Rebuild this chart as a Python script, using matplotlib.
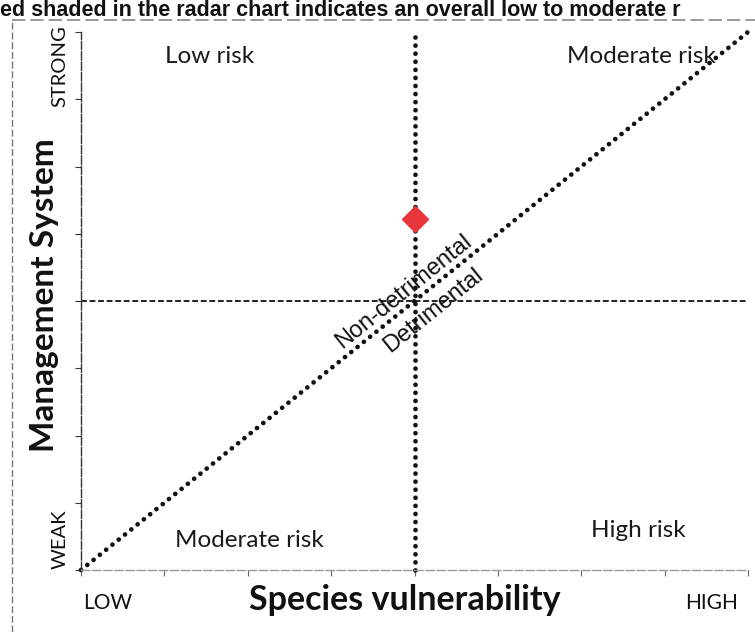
import matplotlib.pyplot as plt
import numpy as np

# axes run from 0 (low / weak) to 1 (high / strong)
vuln_threshold = 0.5
mgmt_threshold = 0.5
tick_steps = np.arange(0, 1.001, 0.125)

# assessed species (red diamond)
point_vuln = [0.5]
point_mgmt = [0.652]

quadrants = ["Low risk", "Moderate risk", "Moderate risk", "High risk"]
caption = "ed shaded in the radar chart indicates an overall low to moderate r"

fig = plt.figure(figsize=(7.55, 6.32), dpi=100)
ax = fig.add_axes([81 / 755, 62 / 632, 667 / 755, 538 / 632])
ax.set_xlim(0, 1)
ax.set_ylim(0, 1)

# frame: only left + bottom, thin, like the scan
for s in ["top", "right"]:
    ax.spines[s].set_visible(False)
ax.spines["left"].set_color("#333333")
ax.spines["left"].set_linewidth(1.0)
ax.spines["left"].set_linestyle((0, (6, 1.5)))
ax.spines["bottom"].set_color("#9a9a9a")
ax.spines["bottom"].set_linewidth(1.0)
ax.spines["bottom"].set_linestyle((0, (6, 2)))
ax.set_xticks(tick_steps)
ax.set_yticks(tick_steps)
ax.set_xticklabels([])
ax.set_yticklabels([])
ax.tick_params(axis="x", direction="out", length=4, width=0.8, color="#666666")
ax.tick_params(axis="y", direction="out", length=4, width=0.8, color="#333333")

# diagonal: detrimental / non-detrimental boundary
dot = (0, (0.01, 1.7))
ax.plot([0, 1], [0, 1], color="#111111", lw=3.4, ls=dot, dash_capstyle="round",
        clip_on=False, zorder=2)
# vertical dotted threshold
ax.plot([vuln_threshold, vuln_threshold], [0, 1], color="#111111", lw=3.4, ls=dot,
        dash_capstyle="round", clip_on=False, zorder=2)
# horizontal dashed threshold
ax.axhline(mgmt_threshold, color="#222222", lw=1.4, ls=(0, (3, 1.4)), zorder=1)

ax.plot(point_vuln, point_mgmt, marker="D", ms=13, color="#e8363d", ls="none",
        zorder=4, clip_on=False)

qfont = dict(family=["Lato", "DejaVu Sans"], fontsize=17.5, color="#1a1a1a")
ax.text(0.193, 0.954, quadrants[0], ha="center", va="center", **qfont)
ax.text(0.84, 0.954, quadrants[1], ha="center", va="center", **qfont)
ax.text(0.252, 0.054, quadrants[2], ha="center", va="center", **qfont)
ax.text(0.836, 0.074, quadrants[3], ha="center", va="center", **qfont)

ang = np.degrees(np.arctan2(538, 667))
dfont = dict(family=["Liberation Sans", "DejaVu Sans"], fontsize=17, color="#111111",
             rotation=ang, rotation_mode="anchor", ha="center", va="center")
ax.text(0.484, 0.517, "Non-detrimental", **dfont)
ax.text(0.528, 0.482, "Detrimental", **dfont)

# axis texts
lab = dict(family=["Lato", "DejaVu Sans"], color="#111111")
ax.text(-0.055, 0.51, "Management System", rotation=90, ha="center", va="center",
        fontsize=24, fontweight="bold", **lab)
ax.text(-0.031, 0.937, "STRONG", rotation=90, ha="center", va="center", fontsize=14.5, **lab)
ax.text(-0.031, 0.058, "WEAK", rotation=90, ha="center", va="center", fontsize=14.5, **lab)
ax.text(0.486, -0.056, "Species vulnerability", ha="center", va="center",
        fontsize=24.5, fontweight="bold", **lab)
ax.text(0.04, -0.061, "LOW", ha="center", va="center", fontsize=15, **lab)
ax.text(0.946, -0.061, "HIGH", ha="center", va="center", fontsize=15, **lab)

# caption line from the page above the figure
fig.text(0.0, 1 - 16 / 632, caption, ha="left", va="baseline", fontsize=15.5,
         fontweight="bold", family=["Liberation Sans", "DejaVu Sans"], color="#111111")

# faint scan border
fig.add_artist(plt.Line2D([12 / 755, 12 / 755], [0, 1 - 20 / 632], color="#777777",
                          lw=1, ls=(0, (5, 2))))
fig.add_artist(plt.Line2D([12 / 755, 1], [1 - 20 / 632, 1 - 20 / 632], color="#888888",
                          lw=1.2, ls=(0, (8, 3))))

fig.savefig("out.png", dpi=100)
